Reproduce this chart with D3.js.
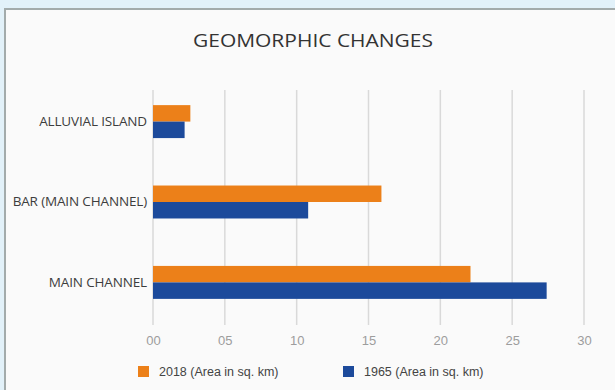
<!DOCTYPE html>
<html><head><meta charset="utf-8">
<script src="https://cdn.jsdelivr.net/npm/d3@7"></script>
<style>html,body{margin:0;padding:0;background:#e2f1f9;}svg{display:block;}</style>
</head><body>
<script>
const categories = ["ALLUVIAL ISLAND", "BAR (MAIN CHANNEL)", "MAIN CHANNEL"];
const values2018 = [2.6, 15.9, 22.1];
const values1965 = [2.2, 10.8, 27.4];
const seriesNames = ["2018 (Area in sq. km)", "1965 (Area in sq. km)"];
const tickValues = [0, 5, 10, 15, 20, 25, 30];
const tickLabels = ["00", "05", "10", "15", "20", "25", "30"];
const title = "GEOMORPHIC CHANGES";
const colors = ["#ec8019", "#1c4a9b"];

const W = 615, H = 390;
const svg = d3.select("body").append("svg").attr("width", W).attr("height", H);

// card
svg.append("rect").attr("x", 5).attr("y", 9).attr("width", 612).attr("height", 385)
  .attr("fill", "#fafafa").attr("stroke", "#a3abab").attr("stroke-width", 2);

svg.append("text").attr("x", 313).attr("y", 47).attr("text-anchor", "middle")
  .attr("font-family", "Open Sans, sans-serif").attr("font-size", 18)
  .attr("fill", "#333").attr("textLength", 240).attr("lengthAdjust", "spacingAndGlyphs").text(title);

const x = d3.scaleLinear().domain([0, 30]).range([153, 584]);
const y = d3.scaleBand().domain(categories).range([81, 323]).paddingInner(0.59).paddingOuter(0.3);
const gridTop = 90, gridBottom = 325;

// gridlines
svg.append("g").selectAll("line").data(tickValues).join("line")
  .attr("x1", d => x(d)).attr("x2", d => x(d)).attr("y1", gridTop).attr("y2", gridBottom)
  .attr("stroke", "#d9d9d9").attr("stroke-width", 1.5);

// axis labels
const ax = d3.axisBottom(x).tickValues(tickValues).tickFormat((d, i) => tickLabels[i]).tickSize(0).tickPadding(0);
const axG = svg.append("g").attr("transform", `translate(0,${336})`).call(ax);
axG.select(".domain").remove();
axG.selectAll("text").attr("font-family", "Liberation Sans, Arial, sans-serif").attr("font-size", 13).attr("fill", "#9d9d9d");

// bars
const sub = d3.scaleBand().domain([0, 1]).range([0, y.bandwidth()]);
const series = [values2018, values1965];
series.forEach((vals, si) => {
  svg.append("g").selectAll("rect").data(categories).join("rect")
    .attr("x", x(0)).attr("y", d => y(d) + sub(si))
    .attr("width", (d, i) => x(vals[i]) - x(0)).attr("height", sub.bandwidth())
    .attr("fill", colors[si]);
});

// category labels
const ay = d3.axisLeft(y).tickSize(0).tickPadding(6);
const ayG = svg.append("g").attr("transform", `translate(${x(0)},0)`).call(ay);
ayG.select(".domain").remove();
ayG.selectAll("text").attr("font-family", "Open Sans, sans-serif").attr("font-size", 13.5)
  .attr("fill", "#3d3d3d").style("letter-spacing", "-0.15px");

// legend
const legendX = [138, 343];
const lg = svg.append("g").selectAll("g").data(seriesNames).join("g")
  .attr("transform", (d, i) => `translate(${legendX[i]},366)`);
lg.append("rect").attr("width", 11).attr("height", 11).attr("fill", (d, i) => colors[i]);
lg.append("text").attr("x", 21).attr("y", 10).attr("font-family", "Liberation Sans, Arial, sans-serif")
  .attr("font-size", 12.5).attr("fill", "#444").text(d => d);
</script>
</body></html>
